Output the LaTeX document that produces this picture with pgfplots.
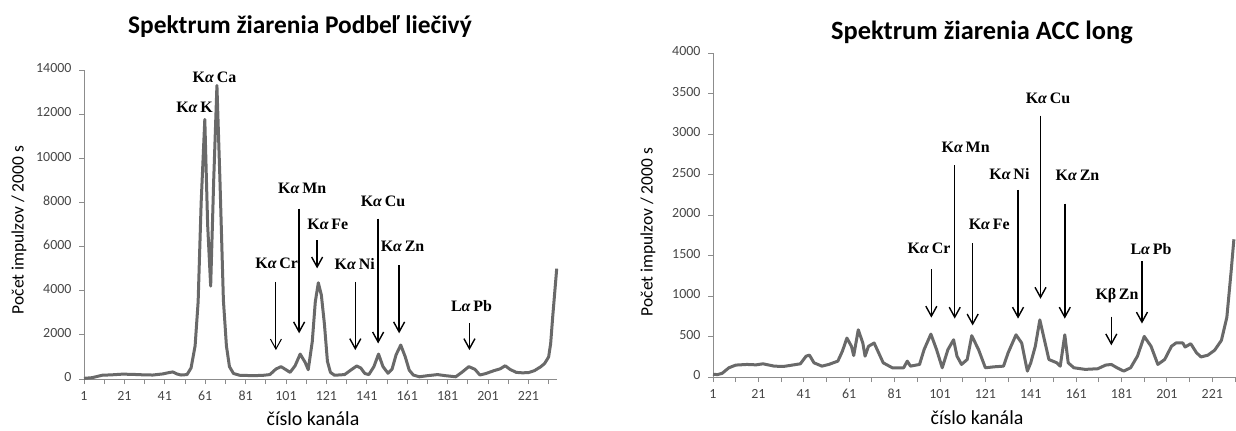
\documentclass[border=0pt]{standalone}
\usepackage{fontspec}
\setmainfont{Carlito}
\newfontfamily\tnr{Liberation Serif}
\usepackage{pgfplots}
\pgfplotsset{compat=1.18}
\usetikzlibrary{arrows.meta}
\definecolor{curve}{RGB}{105,105,105}
\definecolor{axgray}{RGB}{140,140,140}
\definecolor{ticktext}{RGB}{70,70,70}
\newcommand{\lab}[2]{{\fontsize{16}{16}\selectfont\tnr\bfseries #1\textit{α}\,#2}}
\newcommand{\labb}[2]{{\fontsize{16}{16}\selectfont\tnr\bfseries #1β\,#2}}
\pgfplotsset{spec/.style={
  scale only axis, clip=false, enlargelimits=false,
  axis x line*=bottom, axis y line*=left,
  axis line style={axgray, line width=0.9bp, -},
  tick style={axgray, line width=0.9bp},
  tick align=outside, major tick length=5bp, minor tick length=5bp,
  ticklabel style={font=\fontsize{14}{14}\selectfont, text=ticktext},
  typeset ticklabels with strut,
  xticklabel style={yshift=-3bp},
  yticklabel style={xshift=-4bp},
  /pgf/number format/assume math mode=true,
  /pgf/number format/1000 sep={},
  scaled y ticks=false,
  xtick={1,21,...,221}, minor xtick={11,31,...,231},
}}
\tikzset{arr/.style={-{Straight Barb[length=10bp,width=11bp]}, line width=1.4bp, black},
 spec line/.style={curve, line width=3bp, line join=round, no marks}}
\begin{document}
\begin{tikzpicture}[x=1bp,y=1bp]
\useasboundingbox (0,0) rectangle (1236,430);
% ---------- left chart ----------
\begin{axis}[spec, at={(84bp,51bp)}, anchor=south west,
  width=472.7bp, height=309bp, xmin=1, xmax=235, ymin=0, ymax=14000,
  ytick={0,2000,...,14000}]
\addplot[spec line] coordinates {
(1,30) (5,60) (10,170) (15,190) (20,220) (25,210) (30,190) (35,180) (40,230) (43,290) (45,320) (47,230) (49,180) (52,200) (54,500) (56,1500) (57.5,3500) (59,8000) (60.8,11760) (62.2,7000) (63.7,4210) (65.2,9000) (66.8,13300) (68.3,9000) (70,3575) (71.5,1500) (73,560) (75,250) (78,170) (85,150) (90,170) (93,200) (96,450) (98.5,560) (101,420) (103,300) (105.5,600) (108,1130) (110.5,750) (112,420) (114,1700) (115.5,3500) (117,4360) (118.5,3800) (120,2500) (121.5,800) (123,300) (125,170) (130,200) (133,400) (136,590) (138,500) (140,250) (142,200) (144.5,560) (146.8,1130) (149,560) (151.5,260) (153.5,450) (155.5,1100) (157.8,1540) (160,1010) (162,400) (164,180) (167,100) (171,150) (176,200) (180,150) (185,100) (188,300) (191.5,560) (194.5,440) (197,180) (200,250) (204,380) (207,460) (209.5,600) (212,430) (215,300) (218,280) (221,290) (224,380) (227,550) (229,700) (231,1000) (232,1600) (233,2800) (234,3900) (235,5000)
};
\node at (axis cs:55.7,12290) {\lab{K}{K}};
\node at (axis cs:65.6,13650) {\lab{K}{Ca}};
\node at (axis cs:109,8630) {\lab{K}{Mn}};
\draw[arr] (axis cs:107.5,7720) -- (axis cs:107.5,2070);
\node at (axis cs:149,8070) {\lab{K}{Cu}};
\draw[arr] (axis cs:146.6,7270) -- (axis cs:146.6,1610);
\node at (axis cs:121.7,7010) {\lab{K}{Fe}};
\draw[arr] (axis cs:116.4,6290) -- (axis cs:116.4,5010);
\node at (axis cs:96.4,5260) {\lab{K}{Cr}};
\draw[arr, line width=1bp] (axis cs:96,4400) -- (axis cs:96,1310);
\node at (axis cs:135,5200) {\lab{K}{Ni}};
\draw[arr] (axis cs:135.3,4400) -- (axis cs:135.3,1310);
\node at (axis cs:158.7,6020) {\lab{K}{Zn}};
\draw[arr] (axis cs:157,5160) -- (axis cs:157,2070);
\node at (axis cs:192.8,3300) {\lab{L}{Pb}};
\draw[arr] (axis cs:191.8,2520) -- (axis cs:191.8,1310);
\end{axis}
% ---------- right chart ----------
\begin{axis}[spec, at={(713bp,53bp)}, anchor=south west,
  width=522bp, height=324bp, xmin=1, xmax=231, ymin=0, ymax=4000,
  ytick={0,500,...,4000}]
\addplot[spec line] coordinates {
(1,33) (3,30) (5,45) (8,114) (11,147) (16,155) (20,150) (23,163) (28,134) (32,130) (35,143) (39.5,163) (42,257) (43.5,270) (45.5,175) (49,134) (52,155) (56,196) (58,318) (60,481) (62,379) (63,265) (65,583) (67,420) (68,257) (69.5,379) (72,420) (74,297) (76,175) (80,114) (85,114) (86.6,196) (88,134) (92,155) (94,338) (97,530) (99.5,338) (102,114) (104.5,338) (107,460) (108.5,257) (110.5,155) (113,216) (115,510) (118,338) (121,114) (125,126) (129,134) (131,297) (134.5,521) (137,420) (139.5,73) (141,175) (143,379) (145,705) (147,460) (149,216) (152.5,175) (154,134) (156,521) (157.5,175) (160,114) (165,94) (170.5,102) (174,147) (176.5,155) (179,114) (182,73) (185,114) (188,257) (191,501) (194,379) (197,155) (200,216) (203,379) (205,420) (208,420) (209,370) (211.5,411) (214,300) (216,248) (219,269) (222,330) (225,452) (227.4,737) (229.3,1308) (230.5,1700)
};
\node at (axis cs:148.6,3435) {\lab{K}{Cu}};
\draw[arr] (axis cs:145.3,3227) -- (axis cs:145.3,966);
\node at (axis cs:112.3,2836) {\lab{K}{Mn}};
\draw[arr] (axis cs:107.5,2616) -- (axis cs:107.5,721);
\node at (axis cs:131.6,2506) {\lab{K}{Ni}};
\draw[arr] (axis cs:135.4,2310) -- (axis cs:135.4,721);
\node at (axis cs:161.6,2494) {\lab{K}{Zn}};
\draw[arr] (axis cs:156,2140) -- (axis cs:156,721);
\node at (axis cs:122.7,1883) {\lab{K}{Fe}};
\draw[arr] (axis cs:115.4,1650) -- (axis cs:115.4,636);
\node at (axis cs:96.2,1590) {\lab{K}{Cr}};
\draw[arr] (axis cs:97.2,1330) -- (axis cs:97.2,733);
\node at (axis cs:179,1000) {\labb{K}{Zn}};
\draw[arr] (axis cs:176.5,745) -- (axis cs:176.5,391);
\node at (axis cs:194,1577) {\lab{L}{Pb}};
\draw[arr] (axis cs:190,1430) -- (axis cs:190,660);
\end{axis}
% ---------- titles and axis labels ----------
\node[font=\fontsize{25.5}{26}\selectfont\bfseries] at (300,403) {Spektrum žiarenia Podbeľ liečivý};
\node[font=\fontsize{26.5}{27}\selectfont\bfseries] at (982,398) {Spektrum žiarenia ACC long};
\node[font=\fontsize{17.5}{18}\selectfont, rotate=90] at (19,200) {Počet impulzov / 2000 s};
\node[font=\fontsize{17.5}{18}\selectfont, rotate=90] at (648,198) {Počet impulzov / 2000 s};
\node[font=\fontsize{20}{20}\selectfont] at (313,11) {číslo kanála};
\node[font=\fontsize{20}{20}\selectfont] at (977,12) {číslo kanála};
\end{tikzpicture}
\end{document}
